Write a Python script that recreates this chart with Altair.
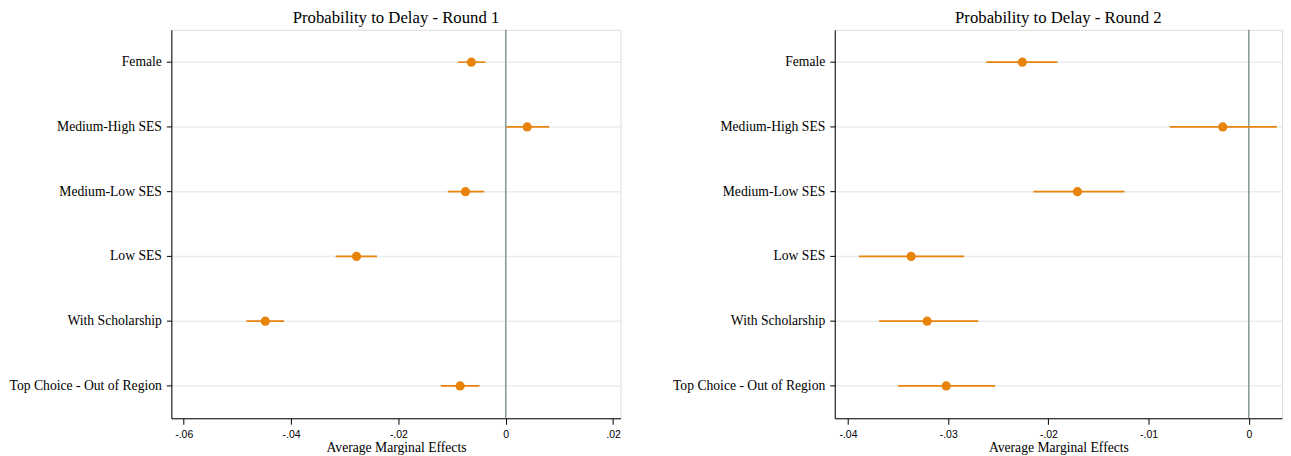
import altair as alt
import pandas as pd

categories = ["Female", "Medium-High SES", "Medium-Low SES", "Low SES",
              "With Scholarship", "Top Choice - Out of Region"]

r1_est = [-0.0064, 0.0040, -0.0075, -0.0278, -0.0448, -0.0085]
r1_lo = [-0.0089, 0.0001, -0.0108, -0.0317, -0.0483, -0.0121]
r1_hi = [-0.0038, 0.0081, -0.0040, -0.0240, -0.0413, -0.0049]

r2_est = [-0.0226, -0.0026, -0.0171, -0.0337, -0.0321, -0.0302]
r2_lo = [-0.0262, -0.0079, -0.0215, -0.0389, -0.0369, -0.0350]
r2_hi = [-0.0191, 0.0028, -0.0124, -0.0284, -0.0270, -0.0253]

r1_ticks = [-0.06, -0.04, -0.02, 0, 0.02]
r2_ticks = [-0.04, -0.03, -0.02, -0.01, 0]

ORANGE = "#e8830c"
ZERO = "#7f9692"
GRID = "#e8eeee"
SERIF = "Liberation Serif"
SANS = "Liberation Sans"

label_expr = ("datum.value == 0 ? '0' : (datum.value < 0 ? '-' : '') + "
              "replace(format(abs(datum.value), '.2f'), '0.', '.')")


def panel(est, lo, hi, title, domain, ticks, width, extent):
    df = pd.DataFrame({"var": categories, "est": est, "lo": lo, "hi": hi})
    xs = alt.Scale(domain=domain, nice=False, zero=False)
    ys = alt.Scale(domain=categories, paddingInner=0, paddingOuter=0)
    xaxis = alt.Axis(
        title="Average Marginal Effects", grid=False, values=ticks,
        labelExpr=label_expr, domainColor="black", tickColor="black",
        tickSize=6, labelFont=SANS, labelFontSize=10.5, labelColor="black",
        labelPadding=5, titleFont=SERIF, titleFontSize=13.7,
        titleFontWeight="normal", titleColor="black", titlePadding=1)
    yaxis = alt.Axis(
        title=None, grid=True, gridColor=GRID, gridWidth=1.5,
        domainColor="black", tickColor="black", tickSize=5,
        labelFont=SERIF, labelFontSize=13.7, labelColor="black",
        labelPadding=5, minExtent=extent, maxExtent=extent, labelLimit=200)
    zero_df = pd.DataFrame({"z": [0]})
    zero = alt.Chart(zero_df).mark_rule(color=ZERO, strokeWidth=1.5).encode(
        x=alt.X("z:Q", scale=xs, axis=xaxis))
    base = alt.Chart(df)
    ci = base.mark_rule(color=ORANGE, strokeWidth=1.6).encode(
        x=alt.X("lo:Q", scale=xs, axis=xaxis),
        x2="hi:Q",
        y=alt.Y("var:N", scale=ys, sort=categories, axis=yaxis))
    pt = base.mark_circle(color=ORANGE, size=85, opacity=1).encode(
        x=alt.X("est:Q", scale=xs, axis=xaxis),
        y=alt.Y("var:N", scale=ys, sort=categories, axis=yaxis))
    return alt.layer(zero, ci, pt).properties(
        width=width, height=390,
        title=alt.TitleParams(title, font=SERIF, fontSize=16.8,
                              fontWeight="normal", color="black",
                              anchor="middle", offset=2))


left = panel(r1_est, r1_lo, r1_hi, "Probability to Delay - Round 1",
             [-0.0623, 0.0214], r1_ticks, 451, 162)
right = panel(r2_est, r2_lo, r2_hi, "Probability to Delay - Round 2",
              [-0.04132, 0.00331], r2_ticks, 449, 163)

chart = alt.hconcat(left, right, spacing=50).configure_view(
    stroke=None).configure(background="white").properties(padding=0)

chart.save("out.html", embed_options={"renderer": "svg", "actions": False})
